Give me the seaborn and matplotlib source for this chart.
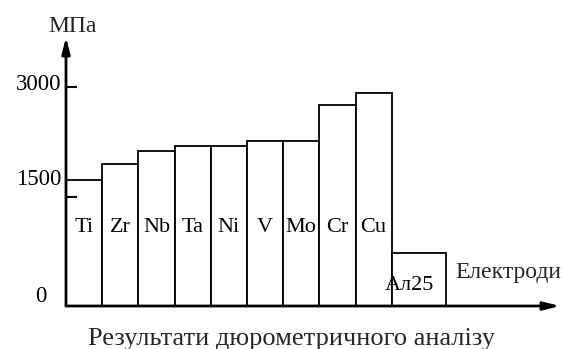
import matplotlib
matplotlib.use("Agg")
import matplotlib.pyplot as plt
import seaborn as sns
import pandas as pd

electrodes = ["Ti", "Zr", "Nb", "Ta", "Ni", "V", "Mo", "Cr", "Cu", "Ал25"]
hardness = [1730, 1950, 2130, 2190, 2190, 2260, 2260, 2750, 2920, 730]
ytick_values = [0, 1500, 3000]
ytick_labels = ["0", "1500", "3000"]
y_unit = "МПа"
x_label = "Електроди"
title = "Результати дюрометричного аналізу"

sns.set_theme(style="white")
plt.rcParams["font.family"] = ["Liberation Serif", "DejaVu Serif"]

df = pd.DataFrame({"electrode": electrodes, "hardness": hardness})

W, H = 563, 349
fig = plt.figure(figsize=(W / 100, H / 100), dpi=100)
ax = fig.add_axes([66 / W, 43 / H, 494 / W, 269 / H])

sns.barplot(data=df, x="electrode", y="hardness", ax=ax, width=1.0,
            color="white", edgecolor="black", linewidth=1.3, saturation=1)

# last bar (Ал25) is wider
last = ax.patches[-1]
last.set_width(1.5)
last.set_x(len(electrodes) - 1 - 0.5)

ax.set_axisbelow(False)
ax.set_xlim(-0.5, 13.15)
ax.set_ylim(0, 3685)
ax.set_xlabel("")
ax.set_ylabel("")
ax.set_xticks([])
ax.set_yticks([v for v in ytick_values if v > 0])
ax.set_yticklabels([])
ax.tick_params(axis="y", direction="in", length=8, width=1.5, color="black", left=True)

for s in ["top", "right", "left", "bottom"]:
    ax.spines[s].set_visible(False)

# axes with arrows
arrow = dict(arrowstyle="-|>,head_length=0.8,head_width=0.2",
             lw=2, color="black", shrinkA=0, shrinkB=0)
ax.annotate("", xy=(1.0, 0), xytext=(0, 0), xycoords="axes fraction", arrowprops=arrow)
ax.annotate("", xy=(0, 1.0), xytext=(0, 0), xycoords="axes fraction", arrowprops=arrow)

# y tick labels (pixel anchors: right edge x, baseline y)
label_pos = {0: (46, 302), 1500: (61, 185), 3000: (61, 90)}
for v, lab in zip(ytick_values, ytick_labels):
    px, py = label_pos[v]
    fig.text(px / W, 1 - py / H, lab, ha="right", va="baseline", fontsize=16.5, color="black")

# bar labels
for i, name in enumerate(electrodes):
    yv = 1014 if i < len(electrodes) - 1 else 219
    ax.text(i, yv, name, ha="center", va="baseline", fontsize=16, color="black")

fig.text(72.5 / W, 1 - 32 / H, y_unit, ha="center", va="baseline", fontsize=17)
fig.text(508 / W, 1 - 278 / H, x_label, ha="center", va="baseline", fontsize=17)
fig.text(292 / W, 1 - 345 / H, title, ha="center", va="baseline", fontsize=19)

fig.savefig("out.png", dpi=100, facecolor="white")
